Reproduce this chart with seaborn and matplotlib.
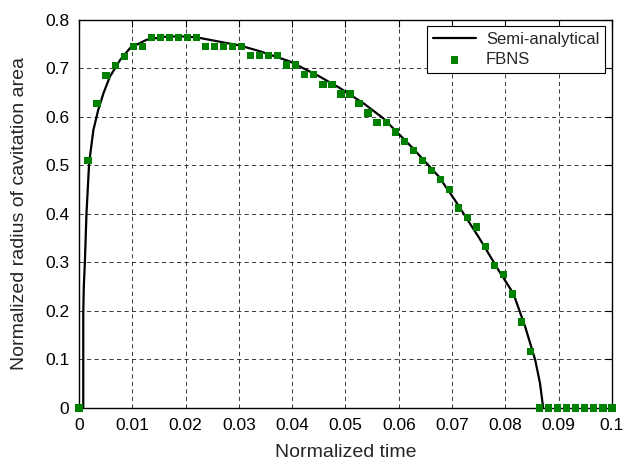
import numpy as np
import pandas as pd
import matplotlib
matplotlib.use('Agg')
import matplotlib.pyplot as plt
import seaborn as sns

# Semi-analytical curve
t_semi = [0.0008, 0.0008, 0.0009, 0.0011, 0.0014, 0.0019, 0.0027, 0.0036, 0.0046,
          0.0058, 0.0077, 0.0096, 0.0127, 0.016, 0.019, 0.022, 0.0302, 0.034,
          0.0396, 0.045, 0.049, 0.0535, 0.0571, 0.0625, 0.0675, 0.0705, 0.075,
          0.079, 0.0815, 0.0837, 0.0856, 0.0865, 0.0871]
r_semi = [0.0, 0.196, 0.25, 0.30, 0.40, 0.505, 0.573, 0.614, 0.649,
          0.683, 0.717, 0.742, 0.759, 0.765, 0.766, 0.764, 0.747, 0.735,
          0.714, 0.684, 0.659, 0.627, 0.597, 0.537, 0.477, 0.429, 0.352,
          0.279, 0.236, 0.168, 0.099, 0.051, 0.0]

# FBNS points, 60 samples between 0 and 0.1
t_fbns = np.linspace(0, 0.1, 60)
r_fbns = [0.0, 0.51, 0.627, 0.686, 0.706, 0.725, 0.745, 0.745,
          0.764, 0.764, 0.764, 0.764, 0.764, 0.764,
          0.745, 0.745, 0.745, 0.745, 0.745,
          0.726, 0.726, 0.726, 0.726,
          0.707, 0.707, 0.687, 0.687, 0.667, 0.667, 0.647, 0.647,
          0.628, 0.608, 0.589, 0.589, 0.569, 0.549, 0.530, 0.510,
          0.490, 0.471, 0.451, 0.412, 0.393, 0.373, 0.333, 0.294,
          0.275, 0.235, 0.177, 0.117,
          0.0, 0.0, 0.0, 0.0, 0.0, 0.0, 0.0, 0.0, 0.0]

semi = pd.DataFrame({'t': t_semi, 'r': r_semi})
fbns = pd.DataFrame({'t': t_fbns, 'r': r_fbns})

sns.set_style('white')
plt.rcParams['font.family'] = ['Liberation Sans', 'DejaVu Sans']

fig = plt.figure(figsize=(6.27, 4.61), dpi=100)
ax = fig.add_axes([0.126, 0.115, 0.85, 0.842])

# estimator=None so repeated t values are not averaged
sns.lineplot(data=semi, x='t', y='r', color='black', linewidth=1.6,
             sort=False, estimator=None, ax=ax, label='Semi-analytical', zorder=3)
sns.scatterplot(data=fbns, x='t', y='r', color='#008000', marker='s', s=27,
                edgecolor='none', ax=ax, label='FBNS', zorder=4, clip_on=False)

ax.set_xlim(0, 0.1)
ax.set_ylim(0, 0.8)
ax.set_xticks(np.arange(0, 0.1001, 0.01))
ax.set_xticklabels(['0', '0.01', '0.02', '0.03', '0.04', '0.05', '0.06',
                    '0.07', '0.08', '0.09', '0.1'])
ax.set_yticks(np.arange(0, 0.801, 0.1))
ax.set_yticklabels(['0', '0.1', '0.2', '0.3', '0.4', '0.5', '0.6', '0.7', '0.8'])

ax.grid(True, color='0.1', linestyle=(0, (5, 4)), linewidth=0.6)
ax.tick_params(direction='in', length=5, width=0.8, top=True, right=True,
               labelsize=12.5, colors='black', pad=7)
for s in ax.spines.values():
    s.set_color('black')
    s.set_linewidth(1.0)

ax.set_xlabel('Normalized time', fontsize=14, labelpad=8)
ax.set_ylabel('Normalized radius of cavitation area', fontsize=14, labelpad=12)

leg = ax.legend(loc='upper right', fontsize=12, frameon=True, fancybox=False,
                edgecolor='black', framealpha=1, borderpad=0.35,
                handlelength=2.6, handletextpad=0.6, labelspacing=0.3,
                borderaxespad=0.4)
leg.get_frame().set_linewidth(0.8)

fig.savefig('out.png', dpi=100)
